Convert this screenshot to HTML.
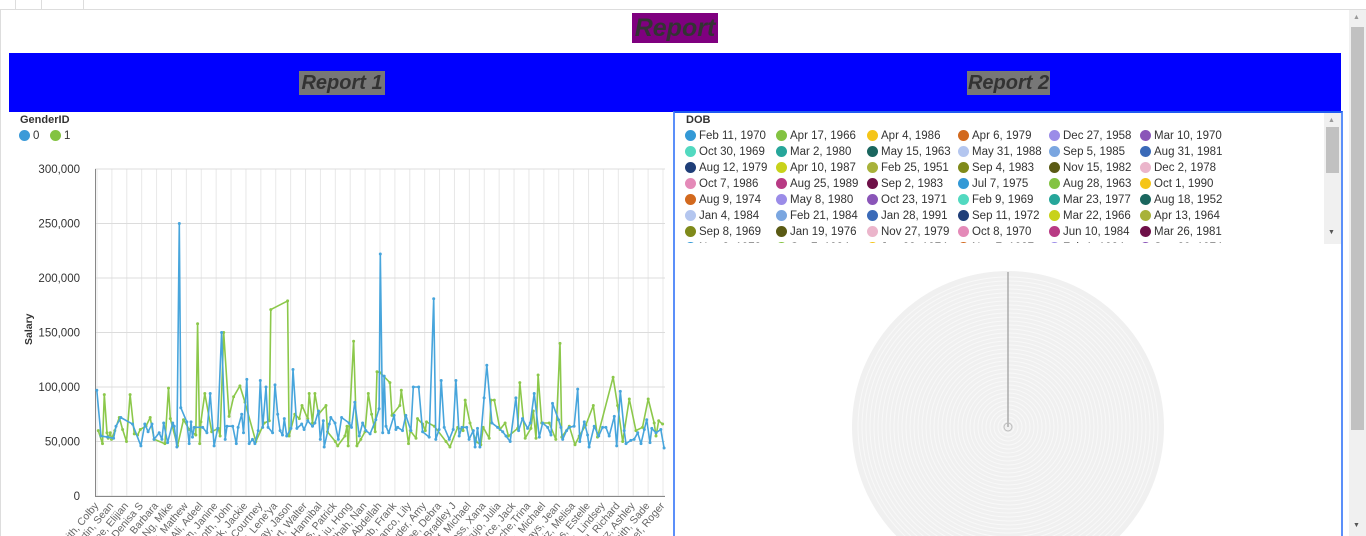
<!DOCTYPE html>
<html><head><meta charset="utf-8">
<style>
*{margin:0;padding:0;box-sizing:border-box}
html,body{width:1366px;height:536px;overflow:hidden}
body{background:#fff;font-family:"Liberation Sans",sans-serif;position:relative}
.abs{position:absolute}
.hdr{font-weight:bold;font-style:italic;color:#333;line-height:1;overflow:hidden;white-space:nowrap}
.lg{position:absolute;font-size:11.5px;color:#333;white-space:nowrap}
.lg i{display:inline-block;width:11px;height:11px;border-radius:50%;vertical-align:-2px;margin-right:3px}
</style></head><body>
<div class="abs" style="left:0;top:0;width:1366px;height:10px;border-bottom:1px solid #ddd"></div>
<div class="abs" style="left:15px;top:0;width:27px;height:9px;border-left:1px solid #ddd;border-right:1px solid #ddd"></div>
<div class="abs" style="left:42px;top:0;width:42px;height:9px;border-right:1px solid #ddd"></div>
<div class="abs" style="left:0;top:9px;width:1px;height:527px;background:#ddd"></div>
<div class="abs hdr" style="left:632px;top:13px;width:86px;height:30px;background:#7f007f;font-size:25px;text-align:center;line-height:30px">Report</div>
<div class="abs" style="left:9px;top:53px;width:1332px;height:59px;background:#0000ff"></div>
<div class="abs hdr" style="left:299px;top:71px;width:86px;height:24px;background:#777;font-size:20px;text-align:center;line-height:24px">Report 1</div>
<div class="abs hdr" style="left:967px;top:71px;width:83px;height:24px;background:#777;font-size:20px;text-align:center;line-height:24px">Report 2</div>

<div class="abs" style="left:20px;top:114px;font-size:11px;font-weight:bold;color:#333">GenderID</div>
<div class="lg" style="left:19px;top:130px"><i style="background:#3b9ad8"></i>0</div>
<div class="lg" style="left:50px;top:130px"><i style="background:#83c341"></i>1</div>
<svg class="abs" style="left:0;top:0;overflow:hidden" width="672" height="536" id="chart"></svg>

<div class="abs" style="left:673px;top:111px;width:670px;height:425px;border:2px solid #5b8ff9;border-top-color:#1f5af0;border-bottom:none"></div>
<div class="abs" style="left:686px;top:114px;font-size:11px;font-weight:bold;color:#333">DOB</div>
<div class="abs" id="dob" style="left:676px;top:128px;width:648px;height:115px;overflow:hidden"></div>
<div class="abs" style="left:1324px;top:113px;width:17px;height:131px;background:#f0f0f0"></div>
<div class="abs" style="left:1326px;top:127px;width:13px;height:46px;background:#c1c1c1"></div>
<div class="abs" style="left:1328px;top:117px;font-size:7px;color:#999">▲</div>
<div class="abs" style="left:1328px;top:229px;font-size:7px;color:#555">▼</div>
<svg class="abs" style="left:840px;top:260px;overflow:hidden" width="340" height="276" id="pie"></svg>

<div class="abs" style="left:1349px;top:10px;width:17px;height:526px;background:#f0f0f0"></div>
<div class="abs" style="left:1351px;top:27px;width:13px;height:403px;background:#c1c1c1"></div>
<div class="abs" style="left:1353px;top:14px;font-size:7px;color:#999">▲</div>
<div class="abs" style="left:1353px;top:522px;font-size:7px;color:#555">▼</div>

<script>
const categoryCount = 190;
const yTicks = [0,50000,100000,150000,200000,250000,300000];
const yTickLabels = ["0","50,000","100,000","150,000","200,000","250,000","300,000"];
const xLabels = ["Smith, Colby","Martin, Sean","Lee, Elijian","Ray, Denisa S","Cole, Barbara","Ng, Mike","Fox, Mathew","Ali, Adeel","Kim, Janine","Roth, John","Park, Jackie","Dunn, Courtney","Ruiz, Lene'ya","Gray, Jason","Hart, Walter","Bell, Hannibal","Rios, Patrick","Liu, Hong","Shah, Nan","Ba, Abdellah","Lamb, Frank","Franco, Lily","Ryder, Amy","Doe, Debra","Bradley J","Wolf, Michael","Ross, Xana","Trujo, Julia","Pierce, Jack","LeBlanche,Trina","Moore, Michael","Hays, Jean","Ruiz, Melisa","Ness, Estelle","Lynn, Lindsey","Gill, Richard","Cruz, Ashley","Smith, Sade","Beef, Roger"];
const blueIdx = [0.3,1.7,3.9,5.9,6.7,8.3,12.2,15,16.3,17.4,18.7,19.4,21.1,22,22.6,23.9,25.6,26.1,27,27.8,28.3,30.3,31.1,31.7,32.2,32.8,35.6,37,38.1,39.4,40.6,41.9,43.1,43.7,45.6,46.8,47.4,48.6,49.2,50.3,51.1,52.2,53,54.1,54.8,55.6,56.7,57.4,58.9,59.7,60.6,61.4,62.2,62.8,63.6,65,65.7,67,68.6,69.4,70.6,72.2,73,74.2,74.8,75.8,76.1,77.8,78.3,79.7,80.8,81.9,84.4,85.2,86.3,87.8,88.9,90,91.4,93.3,94.4,94.8,95.6,96.1,96.7,97.6,99.4,100,100.6,102.2,103.3,105,105.8,107.6,108.9,111.1,112.6,113.3,114.4,115.1,116.1,117.8,119.1,120,121.1,122,123.6,124.4,125.8,126.4,127.2,128,129.4,130.3,132,133.9,135.6,136.7,138.1,140,140.9,142.2,143.9,144.8,146.1,147.8,148.9,150.6,151.7,152.2,154.2,155,155.6,156.9,157.8,159.4,160.6,161.3,162.8,163.9,164.4,166.1,167.6,168.9,170,171.1,172.8,173.6,174.8,176.1,176.7,178.3,179.4,180.6,181.7,182.8,183.6,184.7,185.3,186.7,188.3,189.4];
const blueSalary = [97,55,54,53,64,72,66,46,66,59,66,52,58,52,67,49,67,64,45,250,81,68,48,68,54,63,63,58,94,46,62,150,52,64,64,48,63,75,58,107,48,52,48,60,106,63,100,63,58,102,75,60,56,71,55,62,116,62,66,61,69,64,67,78,52,69,45,66,72,67,52,72,67,63,86,55,67,60,57,70,80,222,58,110,64,58,74,61,63,60,74,60,100,100,59,54,181,52,61,106,63,52,61,106,55,63,63,52,60,45,62,45,90,120,67,63,59,55,50,90,60,71,62,67,94,54,67,63,56,85,70,63,52,60,63,64,98,50,68,56,45,64,55,63,63,55,73,46,96,60,48,51,52,58,48,61,70,49,62,58,61,44].map(v=>v*1000);
const greenIdx = [0.8,2.2,2.8,3.7,4.1,4.8,5.2,6.3,7.8,8.9,10.2,11.4,12.8,13.9,14.8,16.7,18.1,19.4,23,24.2,24.8,27.2,29.2,31.1,33.3,33.9,34.6,35,36.3,38.6,40.8,41.4,42.6,44.4,45.9,48,49.7,53.3,56.1,57.8,58.3,63.9,64.4,66.3,67.8,68.7,70.6,71.1,72.2,73,74.2,76.7,77.2,79.8,80.6,83,83.7,84.1,85.9,87,88.3,89.7,90.8,91.9,93.1,93.7,94.8,98,98.7,101.3,101.8,104.2,104.8,106.7,107.2,108.9,109.8,110.2,112.8,116.7,118,120.6,122.4,123.1,124.7,126.7,128.3,129.1,131.1,131.7,132.8,134.7,136.4,137.5,140.6,141.3,143.1,145,145.8,146.7,147.4,148.6,151.1,153.3,154.7,155.3,157.8,159.7,161.1,163.3,165.8,167.2,172.4,173.9,175.6,177.8,180,182.2,184.1,186.1,186.7,187.6,188.9];
const greenSalary = [60,48,93,58,53,58,52,60,72,61,50,93,57,56,61,64,72,52,48,99,71,46,70,61,56,158,48,68,94,59,62,55,150,73,91,101,86,50,67,69,171,179,55,75,71,83,71,94,67,94,75,83,59,50,46,55,64,46,142,46,52,59,94,75,59,114,113,104,74,83,97,48,60,53,71,66,60,68,64,50,45,63,60,88,67,50,47,63,53,88,88,61,67,55,62,104,53,62,78,53,111,67,67,52,140,54,64,47,55,65,83,54,109,83,50,89,60,63,89,67,55,69,66].map(v=>v*1000);

const NS="http://www.w3.org/2000/svg";
const svg=document.getElementById('chart');
const X0=95,X1=665,Y0=496,Y1=169;
const xScale=i=>X0+(i+0.3)*(X1-X0)/categoryCount;
const yScale=v=>Y0-(v/300000)*(Y0-Y1);
function mk(t,a){const e=document.createElementNS(NS,t);for(const k in a)e.setAttribute(k,a[k]);svg.appendChild(e);return e;}
xLabels.forEach((l,i)=>{
  const x=X0+2+i*(X1-X0-4)/(xLabels.length-1);
  const g=mk('line',{x1:x,x2:x,y1:Y1,y2:Y0,stroke:'#e8e8e8','stroke-width':1});
  
  
  const t=mk('text',{x:x+2,y:Y0+10,'font-size':10.5,fill:'#666','text-anchor':'end',transform:`rotate(-50 ${x+2} ${Y0+10})`});
  t.textContent=l;
  
  
});
yTicks.forEach((v,i)=>{
  const y=yScale(v);
  const g=mk('line',{x1:X0,x2:X1,y1:y,y2:y,stroke:'#dcdcdc','stroke-width':1});
  
  
  const t=mk('text',{x:80,y:y+4,'font-size':11.5,fill:'#333','text-anchor':'end'});
  t.textContent=yTickLabels[i];
  
  
});
const ax=mk('line',{x1:X0+0.5,x2:X0+0.5,y1:Y1,y2:Y0,stroke:'#888'});


const bx=mk('line',{x1:X0,x2:X1,y1:Y0+0.5,y2:Y0+0.5,stroke:'#888'});


const yt=mk('text',{x:32,y:345,'font-size':10.5,'font-weight':'bold',fill:'#333',transform:'rotate(-90 32 345)'});
yt.textContent='Salary';


function series(idx,vals,color,name){
  const pts=idx.map((i,k)=>xScale(i).toFixed(1)+','+yScale(vals[k]).toFixed(1)).join(' ');
  const p=mk('polyline',{points:pts,fill:'none',stroke:color,'stroke-width':1.6,'stroke-linejoin':'round'});
  
  
  idx.forEach((i,k)=>{
    const c=mk('circle',{cx:xScale(i),cy:yScale(vals[k]),r:1.5,fill:color});
    
    
  });
}
series(greenIdx,greenSalary,'#8cc84b','gender-1');
series(blueIdx,blueSalary,'#47a5dc','gender-0');

const dobDates=["Feb 11, 1970","Apr 17, 1966","Apr 4, 1986","Apr 6, 1979","Dec 27, 1958","Mar 10, 1970","Oct 30, 1969","Mar 2, 1980","May 15, 1963","May 31, 1988","Sep 5, 1985","Aug 31, 1981","Aug 12, 1979","Apr 10, 1987","Feb 25, 1951","Sep 4, 1983","Nov 15, 1982","Dec 2, 1978","Oct 7, 1986","Aug 25, 1989","Sep 2, 1983","Jul 7, 1975","Aug 28, 1963","Oct 1, 1990","Aug 9, 1974","May 8, 1980","Oct 23, 1971","Feb 9, 1969","Mar 23, 1977","Aug 18, 1952","Jan 4, 1984","Feb 21, 1984","Jan 28, 1991","Sep 11, 1972","Mar 22, 1966","Apr 13, 1964","Sep 8, 1969","Jan 19, 1976","Nov 27, 1979","Oct 8, 1970","Jun 10, 1984","Mar 26, 1981","Nov 3, 1978","Oct 7, 1984","Jan 22, 1974","Nov 7, 1987","Feb 1, 1984","Sep 20, 1974"];
const palette=["#3399d6","#83c341","#f5c518","#d2691e","#9b8ce8","#8a55b8","#52d9c0","#26a69a","#1a665e","#b4c6ef","#7aa6e0","#3a6ab8","#1f3e78","#c8d21a","#a8b23a","#7f8a1a","#5a5a14","#ebb5cb","#e48ab8","#b83a84","#6e1048"];
const dob=document.getElementById('dob');
dobDates.forEach((d,i)=>{
  const e=document.createElement('div');
  e.className='lg';
  e.style.left=(9+(i%6)*91)+'px';
  e.style.top=(2+Math.floor(i/6)*16)+'px';
  e.innerHTML='<i style="background:'+palette[i%palette.length]+'"></i>'+d;
  
  
  dob.appendChild(e);
});
const pie=document.getElementById('pie');
function pk(t,a){const e=document.createElementNS(NS,t);for(const k in a)e.setAttribute(k,a[k]);pie.appendChild(e);return e;}
const pc=pk('circle',{cx:168,cy:167,r:156,fill:'#f0f0f0'});


for(let r=150;r>4;r-=4){
  const c=pk('circle',{cx:168,cy:167,r:r,fill:'none',stroke:(r%8?'#f8f8f8':'#e8e8e8'),'stroke-width':1});
  
  
}
const pl=pk('line',{x1:168,x2:168,y1:12,y2:167,stroke:'#999','stroke-width':1.2});


const cc=pk('circle',{cx:168,cy:167,r:4,fill:'none',stroke:'#bbb'});


</script>
</body></html>
